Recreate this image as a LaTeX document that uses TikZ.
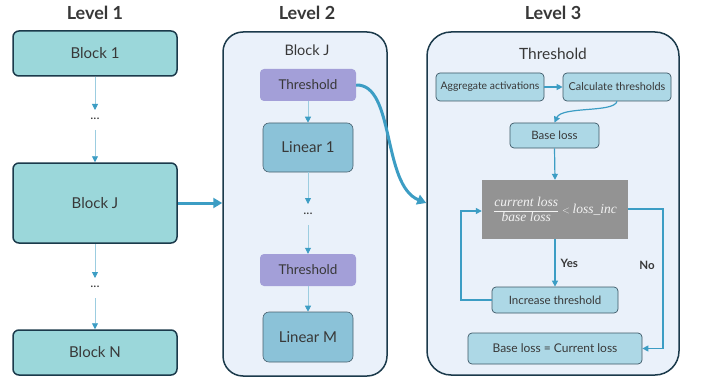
\documentclass[tikz,border=0pt]{standalone}
\usepackage{fontspec}
\setmainfont{Lato}
\newfontfamily\cambria{Liberation Serif}
\usetikzlibrary{arrows.meta}
\definecolor{tealfill}{HTML}{9BD7DA}
\definecolor{darkbord}{HTML}{1B3A4B}
\definecolor{contfill}{HTML}{EAF1FA}
\definecolor{purp}{HTML}{A39FD8}
\definecolor{linfill}{HTML}{8BC2D8}
\definecolor{lbfill}{HTML}{ADD8E6}
\definecolor{arrblue}{HTML}{3C9DC4}
\definecolor{thinline}{HTML}{9CCDE0}
\definecolor{txt}{HTML}{383838}
\definecolor{grayfill}{HTML}{939393}
\newcommand{\mathtxt}[1]{\mbox{\cambria\itshape\fontsize{13.5}{15}\selectfont #1}}
\begin{document}
\begin{tikzpicture}[x=1pt,y=-1pt,
  every node/.style={text=txt, inner sep=0pt},
  title/.style={font=\fontsize{18}{20}\selectfont\bfseries},
  lone/.style={draw=darkbord, line width=1.5pt, fill=tealfill, rounded corners=6pt, font=\fontsize{15}{17}\selectfont},
  cont/.style={draw=darkbord, line width=1.5pt, fill=contfill, rounded corners=20pt},
  thr/.style={fill=purp, rounded corners=4pt, font=\fontsize{13.5}{15}\selectfont, minimum width=96pt, minimum height=32pt},
  lin/.style={draw=darkbord!80, line width=0.6pt, fill=linfill, rounded corners=6pt, font=\fontsize{15}{17}\selectfont, minimum width=90pt},
  lb/.style={draw=darkbord!85, line width=0.7pt, fill=lbfill, rounded corners=4pt, font=\fontsize{11.5}{13}\selectfont},
  thinarr/.style={draw=thinline, line width=0.8pt, -{Triangle[length=6pt,width=6pt,color=arrblue,fill=arrblue]}},
  midarr/.style={draw=arrblue, line width=1.2pt, -{Triangle[length=6pt,width=6pt]}},
  thickarr/.style={draw=arrblue, line width=3pt, -{Triangle[length=9pt,width=10pt]}},
  dots/.style={font=\fontsize{13}{15}\selectfont},
  lbl/.style={font=\fontsize{11.5}{13}\selectfont\bfseries}
]
\useasboundingbox (0,0) rectangle (701,377);
\fill[white] (0,0) rectangle (701,377);

% Level 1
\node[title] (t1) at (95,13) {Level 1};
\node[lone, minimum width=164pt, minimum height=45pt] (b1) at (95,53.5) {Block 1};
\node[dots] (d1) at (95,119) {...};
\node[lone, minimum width=164pt, minimum height=80pt] (bj) at (95,203) {Block J};
\node[dots] (d2) at (95,287) {...};
\node[lone, minimum width=164pt, minimum height=45pt] (bn) at (95,352.5) {Block N};
\coordinate (d1t) at (95,110);
\coordinate (d1b) at (95,130);
\coordinate (d2t) at (95,278);
\coordinate (d2b) at (95,298);
\draw[thinarr] (b1.south) -- (d1t);
\draw[thinarr] (d1b) -- (bj.north);
\draw[thinarr] (bj.south) -- (d2t);
\draw[thinarr] (d2b) -- (bn.north);

% Level 2
\node[title] (t2) at (307,13) {Level 2};
\node[cont, minimum width=164pt, minimum height=344pt] (c2) at (305,204) {};
\node[font=\fontsize{14.5}{16}\selectfont] (c2t) at (307,50) {Block J};
\node[thr] (th1) at (308,85) {Threshold};
\node[lin, minimum height=49pt] (l1) at (308,147.5) {Linear 1};
\node[dots] (d3) at (308,214) {...};
\node[thr] (th2) at (308,270) {Threshold};
\node[lin, minimum height=50pt] (lm) at (308,337) {Linear M};
\coordinate (d3t) at (308,204);
\coordinate (d3b) at (308,225);
\draw[thinarr] (th1.south) -- (l1.north);
\draw[thinarr] (l1.south) -- (d3t);
\draw[thinarr] (d3b) -- (th2.north);
\draw[thinarr] (th2.south) -- (lm.north);

% Level 3
\node[title] (t3) at (553,13) {Level 3};
\node[cont, rounded corners=24pt, minimum width=252pt, minimum height=343pt] (c3) at (553,203.5) {};
\node[font=\fontsize{15.5}{17}\selectfont] (c3t) at (553,54) {Threshold};
\node[lb, minimum width=108pt, minimum height=28pt, font=\fontsize{10.4}{12}\selectfont] (agg) at (490,87) {Aggregate activations};
\node[lb, minimum width=108pt, minimum height=28pt, font=\fontsize{10.9}{12}\selectfont] (calc) at (617,87) {Calculate thresholds};
\node[lb, minimum width=89pt, minimum height=25pt] (bl) at (554.5,135.5) {Base loss};
\node[fill=grayfill, minimum width=146pt, minimum height=59pt, text=white!90!gray] (cmp) at (555,209.5)
  {$\displaystyle\frac{\mathtxt{current loss}}{\mathtxt{base loss}} < \mathtxt{loss\_inc}$};
\node[lb, minimum width=126pt, minimum height=26pt] (inc) at (555,300) {Increase threshold};
\node[lb, minimum width=174pt, minimum height=31pt, font=\fontsize{12}{14}\selectfont] (blc) at (555,348.5) {Base loss = Current loss};

\draw[midarr] (agg.east) -- (calc.west);
\draw[midarr] (calc.south) .. controls (614,113) and (562,106) .. (bl.north);
\draw[midarr] (bl.south) -- (cmp.north);
\draw[midarr] (cmp.south) -- node[lbl, right=5pt, pos=0.52] {Yes} (inc.north);
\draw[midarr] (inc.west) -| (461,211) -- (cmp.west |- 0,211);
\draw[midarr] (cmp.east |- 0,209) -| (663,280) |- (blc.east);
\node[lbl] (no) at (647,265) {No};

% big arrows
\draw[thickarr] (bj.east) -- (c2.west |- bj.east);
\draw[thickarr] (th1.east) .. controls (395,84) and (382,185) .. (c3.west |- 0,203);
\end{tikzpicture}
\end{document}
